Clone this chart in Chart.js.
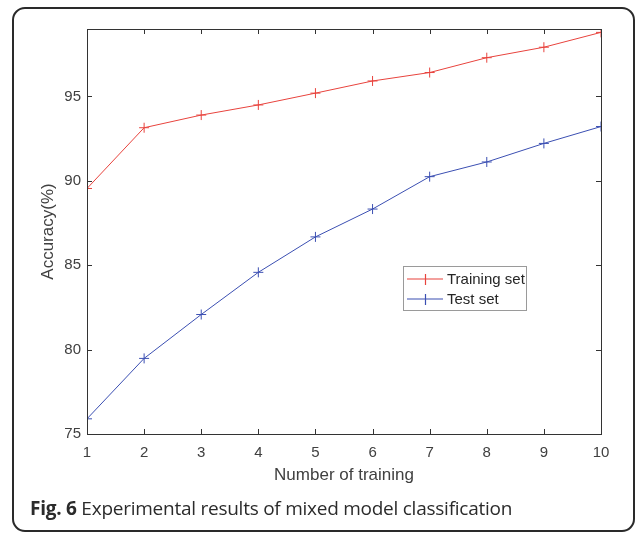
<!DOCTYPE html>
<html>
<head>
<meta charset="utf-8">
<script src="https://cdn.jsdelivr.net/npm/chart.js@4.4.1/dist/chart.umd.min.js"></script>
<style>
    html, body { margin: 0; padding: 0; background: #fff; }
    #wrap { position: relative; width: 637px; height: 538px; overflow: hidden; }
    #chart { position: absolute; left: 0; top: 0; }
    .frame {
        position: absolute; left: 12px; top: 7px; width: 619px; height: 521px;
        border: 2px solid #2a2a2a; border-radius: 13px; pointer-events: none;
    }
    .caption {
        position: absolute; left: 30px; top: 495px;
        font-family: "Open Sans", sans-serif; font-size: 19px; color: #2b2b2b;
        white-space: nowrap; letter-spacing: -0.25px;
    }
    .caption b { font-weight: 700; }
</style>
</head>
<body>
<div id="wrap">
    <canvas id="chart" width="637" height="538"></canvas>
    <div class="frame"></div>
    <div class="caption"><b>Fig. 6</b> Experimental results of mixed model classification</div>
</div>
<script>
// ---- data ----
const runs = [1, 2, 3, 4, 5, 6, 7, 8, 9, 10];
const trainingAcc = [89.55, 93.15, 93.9, 94.5, 95.2, 95.92, 96.42, 97.3, 97.92, 98.8];
const testAcc = [75.9, 79.48, 82.08, 84.58, 86.68, 88.33, 90.25, 91.12, 92.22, 93.22];
const seriesNames = ['Training set', 'Test set'];
const seriesColors = ['#e8433d', '#3b4fb2'];

const tickColor = '#404040';
const axisColor = '#333333';

// MATLAB style box: inward ticks on all four sides, plus a legend box inside the axes
const matlabBox = {
    id: 'matlabBox',
    afterDraw(chart) {
        const { ctx, chartArea: a, scales } = chart;
        ctx.save();
        ctx.strokeStyle = axisColor;
        ctx.lineWidth = 1;
        ctx.strokeRect(Math.round(a.left) + 0.5, Math.round(a.top) + 0.5,
            Math.round(a.right - a.left), Math.round(a.bottom - a.top));
        const len = 5;
        ctx.beginPath();
        scales.x.ticks.forEach((t) => {
            const px = Math.round(scales.x.getPixelForValue(t.value)) + 0.5;
            ctx.moveTo(px, a.bottom); ctx.lineTo(px, a.bottom - len);
            ctx.moveTo(px, a.top); ctx.lineTo(px, a.top + len);
        });
        scales.y.ticks.forEach((t) => {
            const py = Math.round(scales.y.getPixelForValue(t.value)) + 0.5;
            ctx.moveTo(a.left, py); ctx.lineTo(a.left + len, py);
            ctx.moveTo(a.right, py); ctx.lineTo(a.right - len, py);
        });
        ctx.stroke();

        // legend
        const lx = 403, ly = 266, lw = 123, lh = 44;
        ctx.fillStyle = '#fff';
        ctx.fillRect(lx, ly, lw, lh);
        ctx.strokeStyle = '#9a9a9a';
        ctx.strokeRect(lx + 0.5, ly + 0.5, lw, lh);
        ctx.font = '15px "Liberation Sans", Arial, sans-serif';
        ctx.textBaseline = 'middle';
        chart.data.datasets.forEach((ds, i) => {
            const cy = ly + 13 + i * 20;
            ctx.strokeStyle = seriesColors[i];
            ctx.lineWidth = 1.2;
            ctx.beginPath();
            ctx.moveTo(lx + 4, cy); ctx.lineTo(lx + 40, cy);
            ctx.moveTo(lx + 22.5, cy - 5); ctx.lineTo(lx + 22.5, cy + 6);
            ctx.stroke();
            ctx.fillStyle = '#262626';
            ctx.fillText(ds.label, lx + 44, cy + 1);
        });
        ctx.restore();
    }
};

new Chart(document.getElementById('chart'), {
    type: 'line',
    data: {
        datasets: [
            {
                label: seriesNames[0],
                data: runs.map((r, i) => ({ x: r, y: trainingAcc[i] })),
                borderColor: seriesColors[0],
                backgroundColor: seriesColors[0],
                borderWidth: 1,
                pointStyle: 'cross',
                pointRadius: 5,
                pointBorderWidth: 1,
                fill: false,
                tension: 0
            },
            {
                label: seriesNames[1],
                data: runs.map((r, i) => ({ x: r, y: testAcc[i] })),
                borderColor: seriesColors[1],
                backgroundColor: seriesColors[1],
                borderWidth: 1,
                pointStyle: 'cross',
                pointRadius: 5,
                pointBorderWidth: 1,
                fill: false,
                tension: 0
            }
        ]
    },
    options: {
        responsive: false,
        animation: false,
        devicePixelRatio: 1,
        layout: { padding: { left: 38, top: 29, right: 36, bottom: 52 } },
        plugins: { legend: { display: false }, tooltip: { enabled: false } },
        scales: {
            x: {
                type: 'linear',
                min: 1,
                max: 10,
                afterFit: (s) => { s.height = 52; },
                ticks: { stepSize: 1, color: tickColor, padding: 10, font: { size: 15, family: '"Liberation Sans", Arial' } },
                grid: { display: false, drawTicks: false },
                border: { display: false },
                title: { display: true, text: 'Number of training', color: tickColor, padding: 0, font: { size: 17, family: '"Liberation Sans", Arial' } }
            },
            y: {
                min: 75,
                max: 99,
                afterFit: (s) => { s.width = 49; },
                afterBuildTicks: (s) => { s.ticks = s.ticks.filter((t) => t.value % 5 === 0); },
                ticks: { stepSize: 5, color: tickColor, padding: 6, font: { size: 15, family: '"Liberation Sans", Arial' } },
                grid: { display: false, drawTicks: false },
                border: { display: false },
                title: { display: true, text: 'Accuracy(%)', color: tickColor, padding: 0, font: { size: 17, family: '"Liberation Sans", Arial' } }
            }
        }
    },
    plugins: [matlabBox]
});
</script>
</body>
</html>
